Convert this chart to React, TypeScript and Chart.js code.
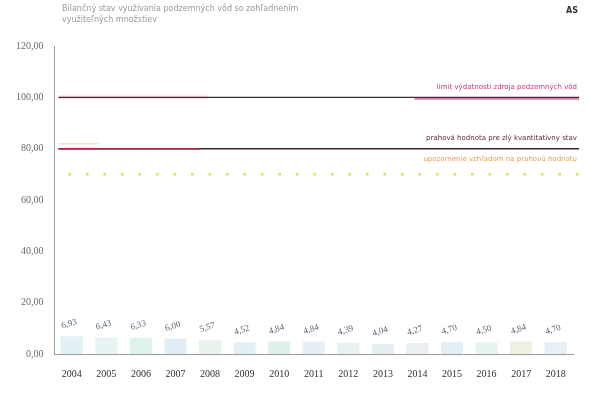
import React, { useEffect, useRef } from "react";
import { Chart, registerables } from "chart.js";

Chart.register(...registerables);

const years = ["2004", "2005", "2006", "2007", "2008", "2009", "2010", "2011", "2012", "2013", "2014", "2015", "2016", "2017", "2018"];
const usage = [6.93, 6.43, 6.33, 6.0, 5.57, 4.52, 4.84, 4.84, 4.39, 4.04, 4.27, 4.7, 4.5, 4.84, 4.7];
const barColors = ["#e3f1f7", "#e7f2f4", "#dff3ec", "#e1eef5", "#e8f3ec", "#e3f0f6", "#dff1ec", "#e5eff5", "#eaf1f3", "#e6eff4", "#e9f0f2", "#e3eff4", "#e7f3ee", "#ecf1e2", "#e7f0f5"];

const yTicks = [0, 20, 40, 60, 80, 100, 120];

const titleLines = [
  "Bilančný stav využívania podzemných vôd so zohľadnením",
  "využiteľných množstiev",
];
const cornerTag = "AS";

const limitValue = 100;
const limitLabel = "limit výdatnosti zdroja podzemných vôd";
const thresholdValue = 80;
const thresholdLabel = "prahová hodnota pre zlý kvantitatívny stav";
const warningValue = 70;
const warningLabel = "upozornenie vzhľadom na prahovú hodnotu";

const fmt = (v: number) => v.toFixed(2).replace(".", ",");

const overlayPlugin = {
  id: "overlay",
  afterDatasetsDraw(chart: any) {
    const { ctx, chartArea, scales } = chart;
    const y = scales.y;
    const left = chartArea.left + 4;
    const right = chartArea.right + 6;
    ctx.save();

    // upper limit line
    const yl = y.getPixelForValue(limitValue);
    ctx.strokeStyle = "rgba(240,170,200,0.35)";
    ctx.lineWidth = 4;
    ctx.beginPath();
    ctx.moveTo(left, yl);
    ctx.lineTo(left + 150, yl);
    ctx.stroke();
    ctx.strokeStyle = "#3a3038";
    ctx.lineWidth = 1.4;
    ctx.beginPath();
    ctx.moveTo(left, yl);
    ctx.lineTo(right, yl);
    ctx.stroke();
    ctx.strokeStyle = "#e0408a";
    ctx.lineWidth = 1.4;
    ctx.beginPath();
    ctx.moveTo(chartArea.left + 360, yl + 1.5);
    ctx.lineTo(right, yl + 1.5);
    ctx.stroke();

    // threshold line
    const yt = y.getPixelForValue(thresholdValue);
    ctx.strokeStyle = "#3a2528";
    ctx.lineWidth = 1.5;
    ctx.beginPath();
    ctx.moveTo(left, yt);
    ctx.lineTo(right, yt);
    ctx.stroke();
    ctx.strokeStyle = "#b0243c";
    ctx.lineWidth = 1.5;
    ctx.beginPath();
    ctx.moveTo(left, yt);
    ctx.lineTo(left + 140, yt);
    ctx.stroke();
    ctx.strokeStyle = "rgba(240,190,170,0.5)";
    ctx.lineWidth = 1.5;
    ctx.beginPath();
    ctx.moveTo(left, yt - 5);
    ctx.lineTo(left + 40, yt - 5);
    ctx.stroke();

    // warning line (dotted)
    const yw = y.getPixelForValue(warningValue);
    ctx.strokeStyle = "#e6da55";
    ctx.lineWidth = 2.5;
    ctx.setLineDash([2.5, 15]);
    ctx.beginPath();
    ctx.moveTo(left + 10, yw);
    ctx.lineTo(right, yw);
    ctx.stroke();
    ctx.setLineDash([]);

    // line labels
    ctx.font = "7px 'DejaVu Sans'";
    ctx.textAlign = "right";
    ctx.textBaseline = "alphabetic";
    ctx.fillStyle = "#d0307a";
    ctx.fillText(limitLabel, right - 2, yl - 8);
    ctx.fillStyle = "#6a2030";
    ctx.fillText(thresholdLabel, right - 2, yt - 9);
    ctx.fillStyle = "#e0a050";
    ctx.fillText(warningLabel, right - 2, yt + 12);

    // value labels above bars
    const meta = chart.getDatasetMeta(0);
    ctx.font = "9px 'Liberation Serif'";
    ctx.fillStyle = "#5a6676";
    ctx.textAlign = "center";
    meta.data.forEach((bar: any, i: number) => {
      ctx.save();
      ctx.translate(bar.x - 2, bar.y - 10);
      ctx.rotate(-0.3);
      ctx.fillText(fmt(usage[i]), 0, 0);
      ctx.restore();
    });

    // header texts
    ctx.font = "8px 'DejaVu Sans'";
    ctx.fillStyle = "#9a9a9a";
    ctx.textAlign = "left";
    ctx.fillText(titleLines[0], 62, 11);
    ctx.fillText(titleLines[1], 62, 22);
    ctx.font = "bold 8px 'DejaVu Sans'";
    ctx.fillStyle = "#333";
    ctx.fillText(cornerTag, 566, 13);
    ctx.restore();
  },
};

export default function App() {
  const ref = useRef<HTMLCanvasElement | null>(null);

  useEffect(() => {
    document.body.style.margin = "0";
    const canvas = ref.current;
    if (!canvas) return;
    const chart = new Chart(canvas, {
      type: "bar",
      data: {
        labels: years,
        datasets: [
          {
            data: usage,
            backgroundColor: barColors,
            borderWidth: 0,
            categoryPercentage: 0.64,
            barPercentage: 1,
          },
        ],
      },
      options: {
        animation: false,
        responsive: false,
        maintainAspectRatio: false,
        layout: { padding: { top: 46, right: 16, left: 8, bottom: 8 } },
        plugins: {
          legend: { display: false },
          tooltip: { enabled: false },
          title: { display: false },
        },
        scales: {
          x: {
            grid: { display: false, drawTicks: true },
            border: { color: "#9a9a9a", width: 1 },
            ticks: {
              color: "#303030",
              font: { family: "'Liberation Serif'", size: 10 },
              maxRotation: 0,
              padding: 6,
            },
          },
          y: {
            min: 0,
            max: 120,
            afterBuildTicks: (axis: any) => {
              axis.ticks = yTicks.map((v) => ({ value: v }));
            },
            grid: { display: false, drawTicks: true, tickLength: 3 },
            border: { color: "#a0a0a0", width: 1 },
            ticks: {
              color: "#6a6a6a",
              font: { family: "'Liberation Serif'", size: 10 },
              padding: 8,
              callback: (v: any) => fmt(Number(v)),
            },
          },
        },
      },
      plugins: [overlayPlugin],
    });
    return () => chart.destroy();
  }, []);

  return (
    <div style={{ width: 589, height: 394, background: "#fff" }}>
      <canvas ref={ref} width={589} height={394} />
    </div>
  );
}
